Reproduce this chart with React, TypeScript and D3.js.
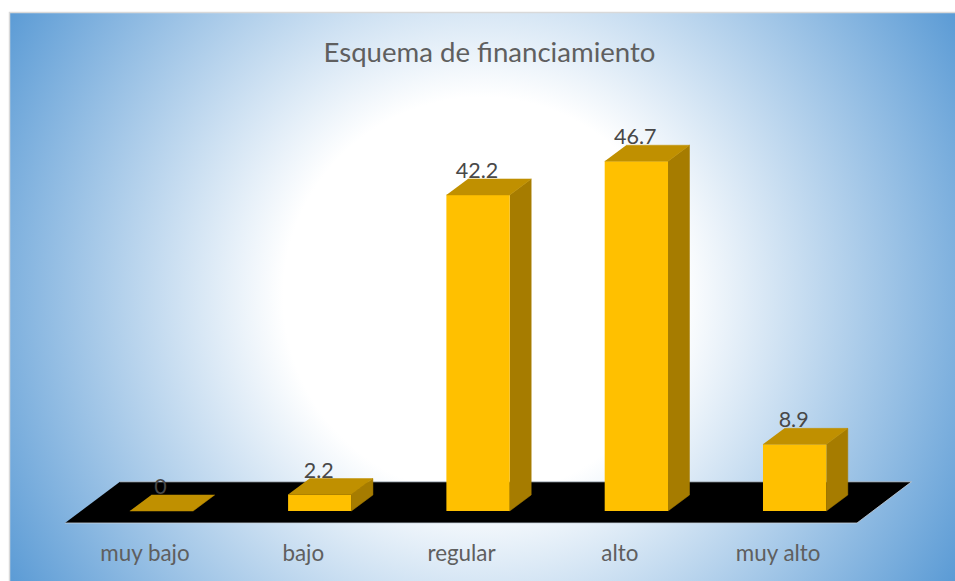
import React from "react";
import * as d3 from "d3";

const categories = ["muy bajo", "bajo", "regular", "alto", "muy alto"];
const values = [0, 2.2, 42.2, 46.7, 8.9];
const valueLabels = ["0", "2.2", "42.2", "46.7", "8.9"];
const chartTitle = "Esquema de financiamiento";

const W = 955;
const H = 581;
const baseY = 511;
const depthX = 21.5;
const depthY = 16;
const FONT = "Lato, Carlito, Calibri, sans-serif";

const x = d3
  .scaleBand<string>()
  .domain(categories)
  .range([82.3, 873.8])
  .paddingInner(0.6)
  .paddingOuter(0.3);
const y = d3.scaleLinear().domain([0, 50]).range([baseY, baseY - 374.5]);

const poly = d3.line();

const floor: [number, number][] = [
  [65, 523],
  [857, 523],
  [911.5, 481.8],
  [120, 481.8],
];

export default function App() {
  return (
    <svg
      width={W}
      height={H}
      viewBox={`0 0 ${W} ${H}`}
      style={{ position: "absolute", left: 0, top: 0, display: "block" }}
    >
      <defs>
        <radialGradient id="bg" gradientUnits="userSpaceOnUse" cx={482} cy={296} r={552}>
          <stop offset="0" stopColor="#ffffff" />
          <stop offset="0.36" stopColor="#ffffff" />
          <stop offset="1" stopColor="#5b9bd5" />
        </radialGradient>
      </defs>
      <rect x={0} y={0} width={W} height={H} fill="#fff" />
      <rect x={9.5} y={12.5} width={W} height={H} fill="url(#bg)" stroke="#d9d9d9" strokeWidth={1.5} />
      <text x={489.5} y={62} textAnchor="middle" fontFamily={FONT} fontSize={27.6} fill="#5f5f5f">
        {chartTitle}
      </text>
      <path d={poly(floor) ?? ""} fill="#000" stroke="#c8d2dc" strokeWidth={0.8} />
      {categories.map((c, i) => {
        const x0 = x(c)!;
        const x1 = x0 + x.bandwidth();
        const top = y(values[i]);
        const topFace: [number, number][] = [
          [x0, top],
          [x1, top],
          [x1 + depthX, top - depthY],
          [x0 + depthX, top - depthY],
        ];
        const side: [number, number][] = [
          [x1, top],
          [x1 + depthX, top - depthY],
          [x1 + depthX, baseY - depthY],
          [x1, baseY],
        ];
        return (
          <g key={c}>
            {values[i] > 0 && (
              <>
                <path d={poly(side) ?? ""} fill="#a67c00" stroke="#a67c00" strokeWidth={0.5} />
                <rect x={x0} y={top} width={x.bandwidth()} height={baseY - top} fill="#ffc000" />
              </>
            )}
            <path d={poly(topFace) ?? ""} fill="#c09000" stroke="#c09000" strokeWidth={0.5} />
            <text
              x={x0 + x.bandwidth() / 2}
              y={top - 17}
              textAnchor="middle"
              fontFamily={FONT}
              fontSize={21.5}
              fill="#484848"
              dx={-1}
            >
              {valueLabels[i]}
            </text>
            <text
              x={x0 + x.bandwidth() / 2 - 16.5}
              y={561}
              textAnchor="middle"
              fontFamily={FONT}
              fontSize={22.4}
              fill="#5f5f5f"
            >
              {c}
            </text>
          </g>
        );
      })}
    </svg>
  );
}
